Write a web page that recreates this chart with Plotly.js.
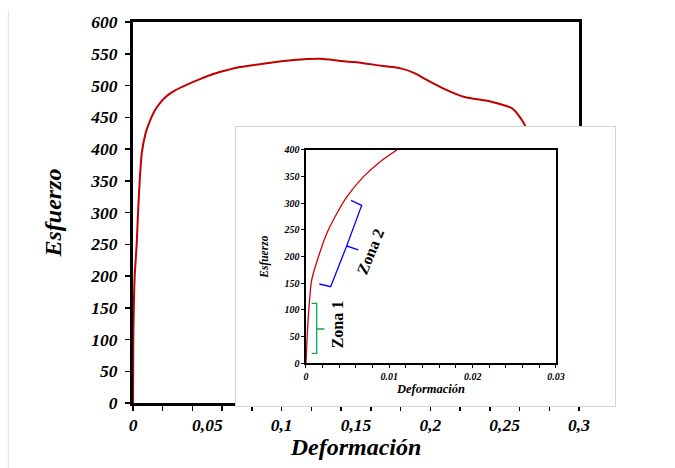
<!DOCTYPE html>
<html>
<head>
<meta charset="utf-8">
<script src="https://cdn.plot.ly/plotly-3.0.1.min.js"></script>
<style>html,body{margin:0;padding:0;background:#fff;}#chart{width:675px;height:468px;}</style>
</head>
<body>
<div id="chart"></div>
<script>
// ---- main stress-strain curve ----
var mainStrain = [0, 0.0002, 0.0011, 0.0025, 0.0032, 0.0045, 0.006, 0.0085, 0.0115, 0.0145, 0.018, 0.0225, 0.028, 0.036, 0.045, 0.054, 0.063, 0.072, 0.09, 0.108, 0.126, 0.14, 0.153, 0.167, 0.18, 0.189, 0.196, 0.21, 0.223, 0.241, 0.255, 0.26, 0.264, 0.266];
var mainStress = [0, 100, 198, 251, 290, 350, 395, 425, 445, 460, 472, 483, 492, 501, 510, 518, 524, 529, 535, 540, 542, 538.5, 536, 531, 527, 520, 511, 494, 482, 474.5, 464, 451, 435, 400];

// ---- inset (zoomed elastic region) ----
var insetStrain = [0, 0.00016, 0.0004, 0.00068, 0.0015, 0.0025, 0.0037, 0.0049, 0.0069, 0.0089, 0.0109];
var insetStress = [0, 56, 112.5, 156, 200, 244, 281, 312, 350, 378, 400];

// ---- bracket markers in inset ----
var zona1Strain = [0.00068, 0.00128, 0.00128, 0.0022, 0.00128, 0.00128, 0.00068];
var zona1Stress = [112.5, 112.5, 64.3, 64.3, 64.3, 18.7, 18.7];
var zona2Strain = [0.0054, 0.00668, 0.00488, 0.00628, 0.00488, 0.00296, 0.0016];
var zona2Stress = [305.6, 296, 220, 212.5, 220, 143.7, 148.7];

// ---- tick definitions ----
var mainTickMarks = [0, 0.02, 0.04, 0.06, 0.08, 0.1, 0.12, 0.14, 0.16, 0.18, 0.2, 0.22, 0.24, 0.26, 0.28, 0.3];
var mainLabelVals = [0, 0.05, 0.1, 0.15, 0.2, 0.25, 0.3];
var mainLabelText = ['0', '0,05', '0,1', '0,15', '0,2', '0,25', '0,3'];
var insetTickVals = [0, 0.002, 0.004, 0.006, 0.008, 0.01, 0.012, 0.014, 0.016, 0.018, 0.02, 0.022, 0.024, 0.026, 0.028, 0.03];
var insetTickText = ['0', '', '', '', '', '0.01', '', '', '', '', '0.02', '', '', '', '', '0.03'];

var FAM = 'Liberation Serif, Times New Roman, serif';
function bi(size) { return {family: FAM, size: size, color: '#000', weight: 'bold', style: 'italic'}; }

var traces = [
  {x: mainStrain, y: mainStress, xaxis: 'x', yaxis: 'y', mode: 'lines',
   line: {color: '#c00000', width: 2, shape: 'spline', smoothing: 0.6}, hoverinfo: 'skip', showlegend: false},
  {x: [], y: [], xaxis: 'x4', yaxis: 'y', mode: 'lines', showlegend: false, hoverinfo: 'skip'},
  {x: [], y: [], xaxis: 'x2', yaxis: 'y2', mode: 'lines', showlegend: false, hoverinfo: 'skip'},
  {x: insetStrain, y: insetStress, xaxis: 'x3', yaxis: 'y3', mode: 'lines',
   line: {color: '#d00000', width: 1.3, shape: 'spline', smoothing: 0.8}, hoverinfo: 'skip', showlegend: false},
  {x: zona1Strain, y: zona1Stress, xaxis: 'x3', yaxis: 'y3', mode: 'lines',
   line: {color: '#00b050', width: 1.3}, hoverinfo: 'skip', showlegend: false},
  {x: zona2Strain, y: zona2Stress, xaxis: 'x3', yaxis: 'y3', mode: 'lines',
   line: {color: '#0000ff', width: 1.3}, hoverinfo: 'skip', showlegend: false}
];

var layout = {
  width: 675, height: 468,
  margin: {l: 133, r: 60, t: 22, b: 62},
  paper_bgcolor: '#fff', plot_bgcolor: '#fff',
  showlegend: false,
  xaxis: {
    domain: [0, 0.9253], range: [0, 0.3], anchor: 'y',
    tickmode: 'array', tickvals: mainTickMarks, showticklabels: false,
    ticks: 'outside', ticklen: 5, tickwidth: 1.5, tickcolor: '#000',
    showline: true, linecolor: '#000', linewidth: 3, mirror: true,
    showgrid: false, zeroline: false
  },
  xaxis4: {
    overlaying: 'x', anchor: 'y', side: 'bottom', range: [0, 0.3],
    tickmode: 'array', tickvals: mainLabelVals, ticktext: mainLabelText,
    ticks: '', tickfont: bi(17.5), ticklabelstandoff: 9,
    showline: false, showgrid: false, zeroline: false,
    title: {text: 'Deformación', font: bi(24), standoff: 3}
  },
  yaxis: {
    domain: [0.0078, 1], range: [0, 600], anchor: 'x',
    tickmode: 'linear', tick0: 0, dtick: 50,
    ticks: 'outside', ticklen: 5, tickwidth: 1.5, tickcolor: '#000',
    tickfont: bi(17.5), ticklabelstandoff: 4,
    showline: true, linecolor: '#000', linewidth: 3, mirror: true,
    showgrid: false, zeroline: false,
    title: {text: 'Esfuerzo', font: bi(24), standoff: 22}
  },
  xaxis2: {
    domain: [0.2137, 1], range: [0, 1], anchor: 'y2',
    showticklabels: false, ticks: '', showgrid: false, zeroline: false,
    showline: true, linecolor: '#d4d4d4', linewidth: 1, mirror: true
  },
  yaxis2: {
    domain: [0, 0.7266], range: [0, 1], anchor: 'x2',
    showticklabels: false, ticks: '', showgrid: false, zeroline: false,
    showline: true, linecolor: '#d4d4d4', linewidth: 1, mirror: true
  },
  xaxis3: {
    domain: [0.3589, 0.8776], range: [0, 0.03], anchor: 'y3',
    tickmode: 'array', tickvals: insetTickVals, ticktext: insetTickText,
    ticks: 'outside', ticklen: 3, tickwidth: 1, tickcolor: '#000',
    tickfont: bi(10),
    showline: true, linecolor: '#000', linewidth: 1.5, mirror: true,
    showgrid: false, zeroline: false,
    title: {text: 'Deformación', font: bi(12.5), standoff: 2}
  },
  yaxis3: {
    domain: [0.1112, 0.6667], range: [0, 400], anchor: 'x3',
    tickmode: 'linear', tick0: 0, dtick: 50,
    ticks: 'outside', ticklen: 3, tickwidth: 1, tickcolor: '#000',
    tickfont: bi(10),
    showline: true, linecolor: '#000', linewidth: 1.5, mirror: true,
    showgrid: false, zeroline: false,
    title: {text: 'Esfuerzo', font: bi(11.5), standoff: 12}
  },
  shapes: [
    {type: 'line', xref: 'paper', yref: 'paper', x0: -0.2587, x1: -0.2587, y0: 1.031, y1: -0.162,
     line: {color: '#e2e2e2', width: 1}}
  ],
  annotations: [
    {xref: 'x3', yref: 'y3', x: 0.00388, y: 73.7, text: 'Zona 1', showarrow: false,
     textangle: -90, font: {family: FAM, size: 16, color: '#000', weight: 'bold'}},
    {xref: 'x3', yref: 'y3', x: 0.00776, y: 209, text: 'Zona 2', showarrow: false,
     textangle: -68, font: {family: FAM, size: 16, color: '#000', weight: 'bold'}}
  ]
};

Plotly.newPlot('chart', traces, layout, {staticPlot: true, displayModeBar: false});
</script>
</body>
</html>
